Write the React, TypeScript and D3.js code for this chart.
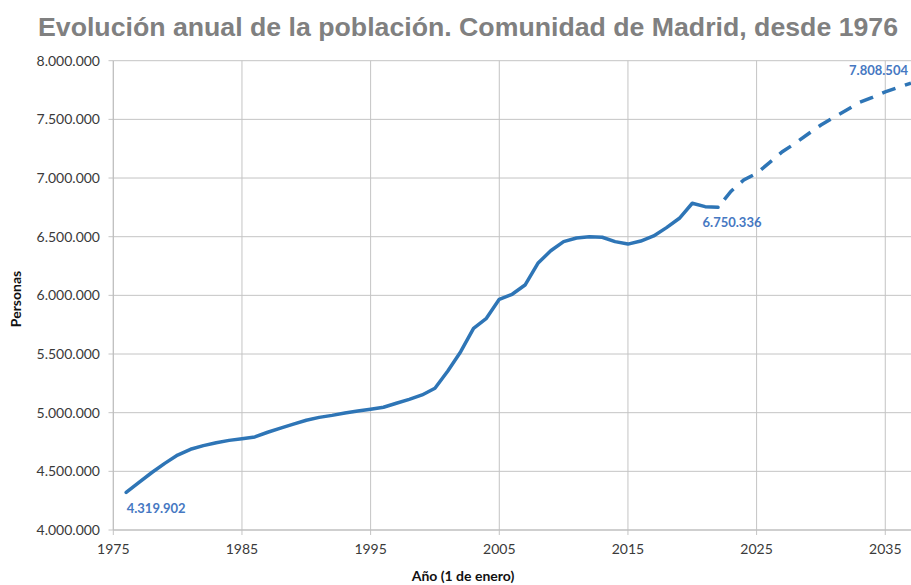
import React from "react";
import * as d3 from "d3";

const yearsObs = d3.range(1976, 2023);
const popObs = [
  4319902, 4406000, 4490000, 4568000, 4639000, 4688000, 4719000, 4744000, 4764000, 4778000,
  4793000, 4833000, 4869000, 4903000, 4935000, 4960000, 4977000, 4997000, 5014000, 5029000,
  5046000, 5080000, 5114000, 5151000, 5208000, 5355000, 5520000, 5719000, 5804000, 5966000,
  6009000, 6088000, 6273000, 6380000, 6458000, 6489000, 6500000, 6495000, 6458000, 6437000,
  6463000, 6506000, 6577000, 6657000, 6785000, 6756000, 6750336,
];
const yearsProj = d3.range(2022, 2038);
const popProj = [
  6750336, 6886000, 6983000, 7040000, 7131000, 7224000, 7296000, 7375000, 7452000, 7517000,
  7580000, 7645000, 7688000, 7735000, 7772000, 7808504,
];
const yTicks = [4000000, 4500000, 5000000, 5500000, 6000000, 6500000, 7000000, 7500000, 8000000];
const xTicks = [1975, 1985, 1995, 2005, 2015, 2025, 2035];
const titleText = "Evolución anual de la población. Comunidad de Madrid, desde 1976";
const xTitle = "Año (1 de enero)";
const yTitle = "Personas";

const fmt = (v: number) => d3.format(",")(v).replace(/,/g, ".");

export default function App() {
  const W = 911, H = 585;
  const x = d3.scaleLinear().domain([1975, 2037]).range([113.3, 911]);
  const y = d3.scaleLinear().domain([4000000, 8000000]).range([530, 60.7]);
  const gen = d3.line<[number, number]>().x((d) => x(d[0])).y((d) => y(d[1]));
  const obsPath = gen(yearsObs.map((yr, i) => [yr, popObs[i]] as [number, number])) as string;
  const projPath = gen(yearsProj.map((yr, i) => [yr, popProj[i]] as [number, number])) as string;
  const blue = "#2E75B6";
  const labelBlue = "#4678C2";
  const grid = "#c4c4c4";
  const tickFont = "Lato, 'Open Sans', sans-serif";
  const first = popObs[0];
  const lastObs = popObs[popObs.length - 1];
  const lastProj = popProj[popProj.length - 1];
  return (
    <svg width={W} height={H} style={{ position: "absolute", left: 0, top: 0, background: "#fff" }}>
      <text
        x={468}
        y={36}
        textAnchor="middle"
        fontFamily="'Liberation Sans', Arial, sans-serif"
        fontWeight="bold"
        fontSize={25}
        fill="#808080"
        textLength={860}
        lengthAdjust="spacingAndGlyphs"
      >
        {titleText}
      </text>
      {yTicks.map((t) => (
        <g key={t}>
          <line x1={113.3} x2={911} y1={y(t)} y2={y(t)} stroke={grid} strokeWidth={1} />
          <line x1={108.5} x2={113.3} y1={y(t)} y2={y(t)} stroke={grid} strokeWidth={1} />
          <text x={100} y={y(t) + 5} textAnchor="end" fontFamily={tickFont} fontSize={14} fill="#3a3a3a">
            {fmt(t)}
          </text>
        </g>
      ))}
      {xTicks.map((t) => (
        <g key={t}>
          <line x1={x(t)} x2={x(t)} y1={60.7} y2={535} stroke={grid} strokeWidth={1} />
          <text x={x(t)} y={554} textAnchor="middle" fontFamily={tickFont} fontSize={14} fill="#3a3a3a">
            {t}
          </text>
        </g>
      ))}
      <line x1={113.3} x2={113.3} y1={60.7} y2={530} stroke="#bdbdbd" strokeWidth={1} />
      <line x1={113.3} x2={911} y1={530} y2={530} stroke="#bdbdbd" strokeWidth={1} />
      <path d={obsPath} fill="none" stroke={blue} strokeWidth={3.5} strokeLinejoin="round" strokeLinecap="round" />
      <path
        d={projPath}
        fill="none"
        stroke={blue}
        strokeWidth={3.5}
        strokeDasharray="14,10"
        strokeDashoffset={14}
      />
      <text x={x(1976) + 30} y={y(first) + 21} textAnchor="middle" fontFamily={tickFont} fontWeight="bold" fontSize={13} fill={labelBlue}>
        {fmt(first)}
      </text>
      <text x={x(2022) + 14} y={y(lastObs) + 20} textAnchor="middle" fontFamily={tickFont} fontWeight="bold" fontSize={13} fill={labelBlue}>
        {fmt(lastObs)}
      </text>
      <text x={908} y={y(lastProj) - 8} textAnchor="end" fontFamily={tickFont} fontWeight="bold" fontSize={13} fill={labelBlue}>
        {fmt(lastProj)}
      </text>
      <text x={463} y={581} textAnchor="middle" fontFamily={tickFont} fontWeight="bold" fontSize={14} fill="#111">
        {xTitle}
      </text>
      <text
        transform={`translate(21,299) rotate(-90)`}
        textAnchor="middle"
        fontFamily={tickFont}
        fontWeight="bold"
        fontSize={14}
        fill="#111"
      >
        {yTitle}
      </text>
    </svg>
  );
}
